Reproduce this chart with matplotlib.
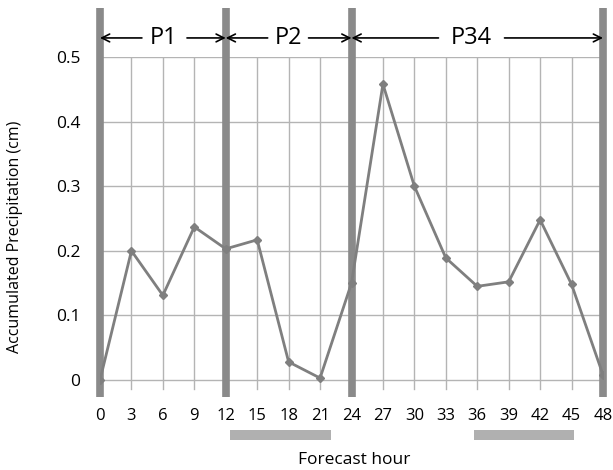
import matplotlib
matplotlib.use("Agg")
import matplotlib.pyplot as plt

hours = [0, 3, 6, 9, 12, 15, 18, 21, 24, 27, 30, 33, 36, 39, 42, 45, 48]
precip = [0.0, 0.200, 0.131, 0.237, 0.203, 0.217, 0.028, 0.003, 0.150,
          0.458, 0.300, 0.189, 0.145, 0.152, 0.248, 0.148, 0.008]
yticks = [0, 0.1, 0.2, 0.3, 0.4, 0.5]
ytick_labels = ["0", "0.1", "0.2", "0.3", "0.4", "0.5"]
period_bounds = [0, 12, 24, 48]
period_labels = ["P1", "P2", "P34"]
period_text_x = [6.1, 18.0, 35.4]
period_arrow_gaps = [(4.0, 8.3), (16.0, 19.9), (32.3, 38.6)]
gray_bars = [(12.4, 22.0), (35.7, 45.2)]

plt.rcParams['font.family'] = ['Open Sans', 'DejaVu Sans']

fig = plt.figure(figsize=(6.13, 4.70), dpi=100)
left_px, right_px, top_px, bot_px = 100, 603, 57, 397
ax = fig.add_axes([left_px / 613, (470 - bot_px) / 470,
                   (right_px - left_px) / 613, (bot_px - top_px) / 470])
ymin = -0.0263
ax.set_xlim(0, 48)
ax.set_ylim(ymin, 0.5)
for s in ax.spines.values():
    s.set_visible(False)

grid_c = '#b4b4b4'
for y in yticks:
    ax.plot([0, 48], [y, y], color=grid_c, lw=1.0, zorder=1)
for h in hours:
    ax.plot([h, h], [ymin + 0.013, 0.5], color=grid_c, lw=1.0, zorder=1)

for b in period_bounds:
    ax.plot([b, b], [ymin, 0.576], color='#8a8a8a', lw=5.5, zorder=3,
            clip_on=False, solid_capstyle='butt')

ax.plot(hours, precip, color='#7f7f7f', lw=2.0, marker='D', markersize=4,
        markerfacecolor='#7f7f7f', markeredgecolor='#7f7f7f', zorder=4)

ya = 0.5295
for (b0, b1), lab, tx, (g0, g1) in zip(zip(period_bounds[:-1], period_bounds[1:]),
                                       period_labels, period_text_x, period_arrow_gaps):
    for tip, tail in ((b0, g0), (b1, g1)):
        ax.annotate('', xy=(tip, ya), xytext=(tail, ya),
                    arrowprops=dict(arrowstyle='->', color='black', lw=1.2,
                                    shrinkA=0, shrinkB=0, mutation_scale=14),
                    annotation_clip=False)
    ax.text(tx, ya, lab, ha='center', va='center', fontsize=17, clip_on=False)

ax.set_xticks(hours)
ax.set_xticklabels([str(h) for h in hours], fontsize=12)
ax.set_yticks(yticks)
ax.set_yticklabels(ytick_labels, fontsize=12.5)
ax.tick_params(axis='both', length=0)
ax.tick_params(axis='x', pad=8)
ax.tick_params(axis='y', pad=14)

for x0, x1 in gray_bars:
    ax.fill_between([x0, x1], [-0.0929, -0.0929], [-0.0774, -0.0774],
                    color='#b0b0b0', clip_on=False, lw=0)

fig.text((left_px + right_px) / 2 / 613 + 0.005, 10 / 470, 'Forecast hour',
         ha='center', va='center', fontsize=12.5)
fig.text(15 / 613, (470 - 237) / 470, 'Accumulated Precipitation (cm)',
         ha='center', va='center', rotation=90, fontsize=11.5)

fig.savefig('out.png', dpi=100)
